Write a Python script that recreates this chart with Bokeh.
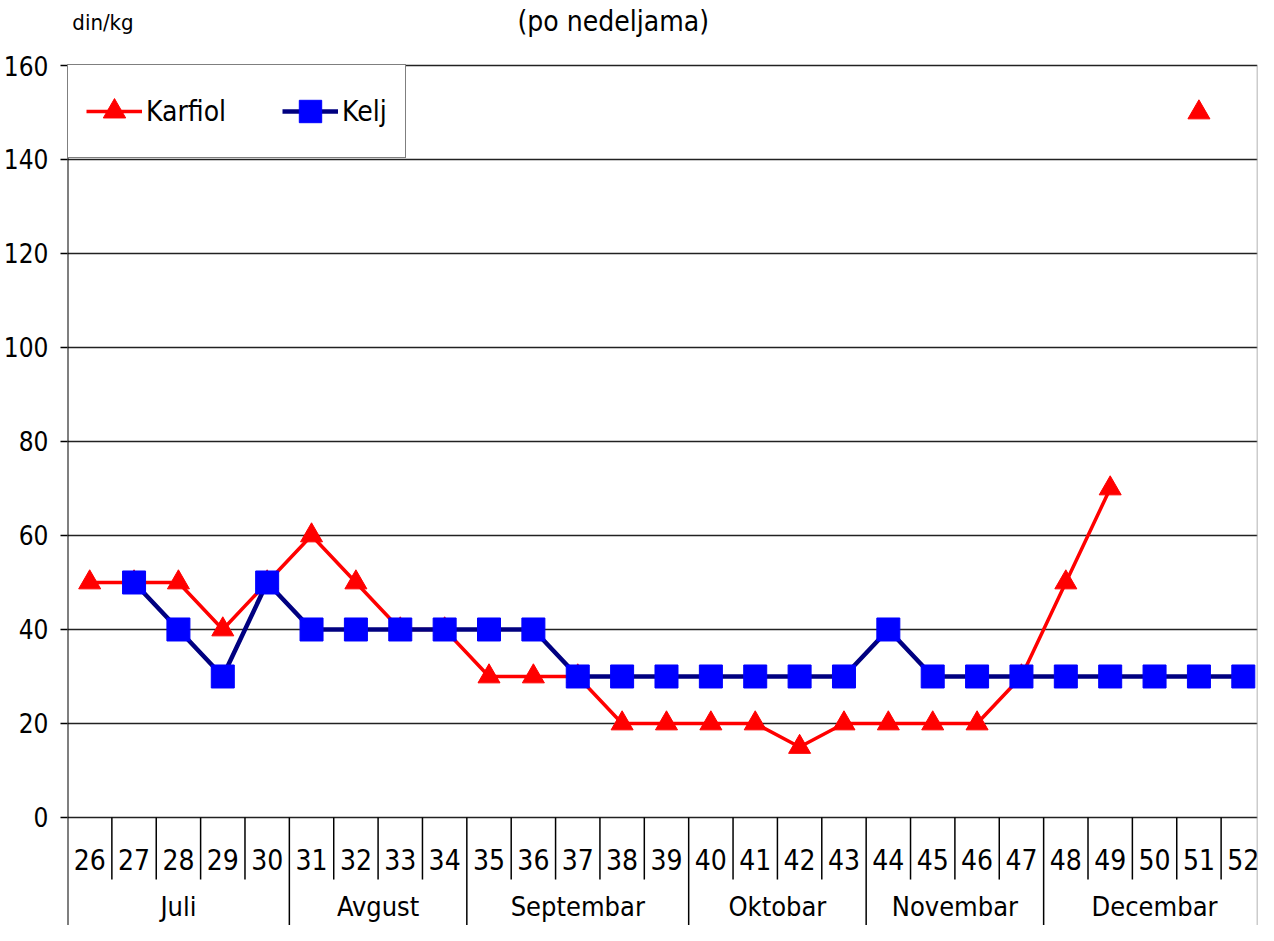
import math
from bokeh.plotting import figure
from bokeh.models import Range1d, FixedTicker, Legend, LegendItem, ColumnDataSource
from bokeh.core.properties import value
from bokeh.embed import file_html
from bokeh.resources import INLINE

nan = float("nan")

weeks = list(range(26, 53))
karfiol = [50, 50, 50, 40, 50, 60, 50, 40, 40, 30, 30, 30, 20, 20, 20, 20, 15, 20,
           20, 20, 20, 30, 50, 70, nan, 150, nan]
kelj = [nan, 50, 40, 30, 50, 40, 40, 40, 40, 40, 40, 30, 30, 30, 30, 30, 30, 30,
        40, 30, 30, 30, 30, 30, 30, 30, 30]
months = ["Juli", "Avgust", "Septembar", "Oktobar", "Novembar", "Decembar"]
month_first = [26, 31, 35, 40, 44, 48]
month_last = [30, 34, 39, 43, 47, 52]
y_ticks = [0, 20, 40, 60, 80, 100, 120, 140, 160]
title_text = "(po nedeljama)"
unit_text = "din/kg"

FONT = "DejaVu Sans Condensed"
Y_MIN, Y_MAX = -22.98, 173.83
X_MIN, X_MAX = 25.5, 52.32

p = figure(width=1258, height=925, output_backend="svg", toolbar_location=None,
           x_range=Range1d(X_MIN, X_MAX), y_range=Range1d(Y_MIN, Y_MAX),
           min_border_left=65, min_border_right=1, min_border_top=0, min_border_bottom=0,
           x_axis_location=None)
p.background_fill_color = "white"
p.border_fill_color = "white"
p.outline_line_color = None

p.xgrid.visible = False
p.ygrid.grid_line_color = "#222222"
p.ygrid.grid_line_width = 1.5
p.yaxis.ticker = FixedTicker(ticks=y_ticks)
p.yaxis.minor_tick_line_color = None
p.yaxis.major_tick_in = 0
p.yaxis.major_tick_out = 7
p.yaxis.major_tick_line_width = 1.5
p.yaxis.axis_line_color = None
p.yaxis.major_label_text_font = FONT
p.yaxis.major_label_text_font_size = "26px"
p.yaxis.major_label_text_color = "black"
p.yaxis.major_label_standoff = 12

top_val = y_ticks[-1]
# frame borders (left axis line and right edge)
p.segment(x0=[X_MIN], x1=[X_MIN], y0=[Y_MIN], y1=[top_val], line_color="black", line_width=2)
p.segment(x0=[X_MAX], x1=[X_MAX], y0=[Y_MIN], y1=[top_val], line_color="#999999", line_width=1.5)

# category table under the plot
bounds = [w + 0.5 for w in weeks[:-1]]
month_bounds = [m + 0.5 for m in month_last[:-1]]
week_only = [b for b in bounds if b not in month_bounds]
p.segment(x0=week_only, x1=week_only, y0=[0] * len(week_only), y1=[-13.2] * len(week_only),
          line_color="black", line_width=1.5)
p.segment(x0=month_bounds, x1=month_bounds, y0=[0] * len(month_bounds),
          y1=[Y_MIN] * len(month_bounds), line_color="black", line_width=1.5)
p.text(x=weeks, y=[-8.9] * len(weeks), text=[str(w) for w in weeks],
       text_align="center", text_baseline="middle", text_font=value(FONT),
       text_font_size="28px", text_color="black")
month_centers = [(a + b) / 2 for a, b in zip(month_first, month_last)]
p.text(x=month_centers, y=[-19.0] * len(months), text=months,
       text_align="center", text_baseline="middle", text_font=value(FONT),
       text_font_size="27px", text_color="black")

src = ColumnDataSource(dict(week=weeks, karfiol=karfiol, kelj=kelj))
kl = p.line("week", "karfiol", source=src, line_color="#FF0000", line_width=3.5)
ks = p.scatter("week", "karfiol", source=src, marker="triangle", size=22,
               fill_color="#FF0000", line_color="#FF0000")
bl = p.line("week", "kelj", source=src, line_color="#000080", line_width=4.5)
bs = p.scatter("week", "kelj", source=src, marker="square", size=23,
               fill_color="#0000FF", line_color="#0000FF")

legend = Legend(items=[LegendItem(label="Karfiol", renderers=[kl, ks]),
                       LegendItem(label="Kelj", renderers=[bl, bs])],
                location=(0, 767), orientation="horizontal", margin=0,
                padding=18, spacing=56, glyph_width=56, glyph_height=56,
                label_standoff=4, label_height=30,
                label_text_font=FONT, label_text_font_size="28px",
                label_text_color="black",
                border_line_color="black", border_line_width=1.5,
                background_fill_color="white", background_fill_alpha=1.0)
p.add_layout(legend)

# titles (inside the extended frame, above the 160 line)
p.text(x=[37.8], y=[169.4], text=[title_text], text_align="center",
       text_baseline="middle", text_font=value(FONT), text_font_size="28px",
       text_color="black")
p.text(x=[26.3], y=[169.1], text=[unit_text], text_align="center",
       text_baseline="middle", text_font=value(FONT), text_font_size="22px",
       text_color="black")

open("out.html", "w").write(file_html(p, INLINE))
